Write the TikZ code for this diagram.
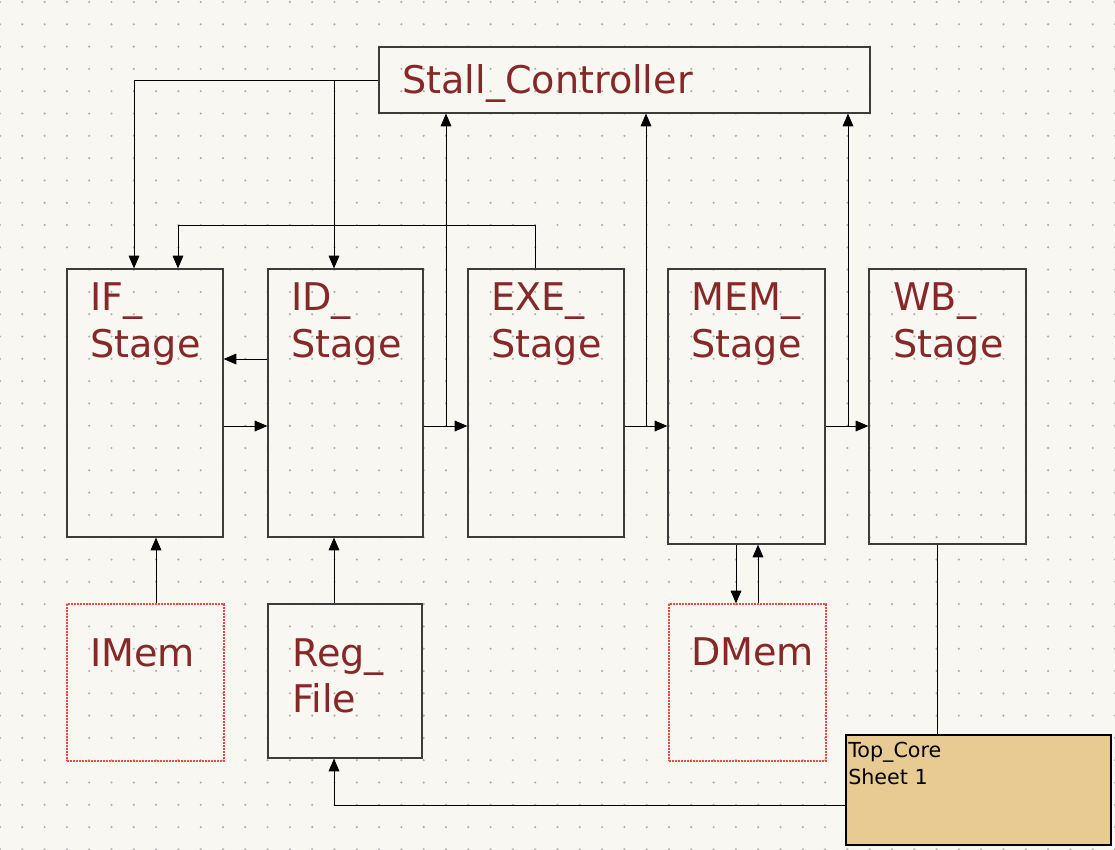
\documentclass[tikz,border=0pt]{standalone}
\usepackage{fontspec}
\setmainfont{DejaVu Sans}
\usetikzlibrary{arrows.meta,fit}
\definecolor{bg}{RGB}{249,247,242}
\definecolor{dotc}{RGB}{175,175,175}
\definecolor{lblc}{RGB}{134,40,40}
\definecolor{memred}{RGB}{236,72,72}
\definecolor{corefill}{RGB}{232,202,147}
\definecolor{boxc}{RGB}{60,60,60}
\begin{document}
\begin{tikzpicture}[x=0.75pt,y=-0.75pt,
  box/.style={draw=boxc, line width=0.9pt, inner sep=0pt},
  memb/.style={draw=memred, line width=0.95pt, dash pattern=on 1.5pt off 0.75pt, inner sep=0pt},
  big/.style={text=lblc, font=\fontsize{28.6}{35}\selectfont, inner sep=0pt, anchor=base west},
  small/.style={text=black, font=\fontsize{15.5}{20}\selectfont, inner sep=0pt, anchor=base west},
  wire/.style={draw=black, line width=0.75pt},
  arr/.style={wire, -{Triangle[length=9.5pt,width=8pt]}},
]
\fill[bg] (0,0) rectangle (1115,850);
\useasboundingbox (0,0) rectangle (1115,850);
\foreach \i in {0,...,50} \foreach \j in {0,...,38} \fill[dotc] (22.3*\i, 2+22.3*\j) circle (0.9pt);

% boxes
\node[box, fit={(379,47)(870,113)}] (stall) {};
\node[box, fit={(67,269)(223,537)}] (if) {};
\node[box, fit={(268,269)(423,537)}] (id) {};
\node[box, fit={(468,269)(624,537)}] (exe) {};
\node[box, fit={(668,269)(825,544)}] (mem) {};
\node[box, fit={(869,269)(1026,544)}] (wb) {};
\node[memb, fit={(67,604)(224,761)}] (imem) {};
\node[box, fit={(268,604)(422,758)}] (reg) {};
\node[memb, fit={(669,604)(826,761)}] (dmem) {};
\node[draw=black, line width=1.5pt, fill=corefill, inner sep=0pt, fit={(846,735)(1111,845)}] (core) {};

% labels
\node[big] (stallt) at (402,93) {Stall\_Controller};
\node[big] (ift1) at (90,310) {IF\_};
\node[big] (ift2) at (90,357) {Stage};
\node[big] (idt1) at (291,310) {ID\_};
\node[big] (idt2) at (291,357) {Stage};
\node[big] (exet1) at (491,310) {EXE\_};
\node[big] (exet2) at (491,357) {Stage};
\node[big] (memt1) at (691,310) {MEM\_};
\node[big] (memt2) at (691,357) {Stage};
\node[big] (wbt1) at (893,310) {WB\_};
\node[big] (wbt2) at (893,357) {Stage};
\node[big] (imemt) at (90,666) {IMem};
\node[big] (regt1) at (292,666) {Reg\_};
\node[big] (regt2) at (292,712) {File};
\node[big] (dmemt) at (691,665) {DMem};
\node[small] (coret1) at (848,757) {Top\_Core};
\node[small] (coret2) at (848,784) {Sheet 1};

% helper coordinates
\coordinate (xa) at (134,0);
\coordinate (xb) at (334,0);
\coordinate (xc) at (535,0);
\coordinate (fb) at (178,225);
\coordinate (ya) at (0,359);
\coordinate (yb) at (0,426);
\coordinate (j1) at (446,426);
\coordinate (j2) at (646,426);
\coordinate (j3) at (848,426);
\coordinate (xd) at (736,0);
\coordinate (xe) at (758,0);
\coordinate (xf) at (156,0);
\coordinate (xg) at (937,0);
\coordinate (yc) at (0,805);

% connectors
\draw[arr] (stall.west) -| (if.north -| xa);
\draw[arr] (stall.west -| xb) -- (id.north -| xb);
\draw[arr] (exe.north -| xc) |- (fb) -- (if.north -| fb);
\draw[arr] (id.west |- ya) -- (if.east |- ya);
\draw[arr] (if.east |- yb) -- (id.west |- yb);
\draw[arr] (id.east |- yb) -- (exe.west |- yb);
\draw[arr] (j1) -- (stall.south -| j1);
\draw[arr] (exe.east |- yb) -- (mem.west |- yb);
\draw[arr] (j2) -- (stall.south -| j2);
\draw[arr] (mem.east |- yb) -- (wb.west |- yb);
\draw[arr] (j3) -- (stall.south -| j3);
\draw[arr] (mem.south -| xd) -- (dmem.north -| xd);
\draw[arr] (dmem.north -| xe) -- (mem.south -| xe);
\draw[arr] (imem.north -| xf) -- (if.south -| xf);
\draw[arr] (reg.north -| xb) -- (id.south -| xb);
\draw[wire] (wb.south -| xg) -- (core.north -| xg);
\draw[arr] (core.west |- yc) -| (reg.south -| xb);
\end{tikzpicture}
\end{document}
